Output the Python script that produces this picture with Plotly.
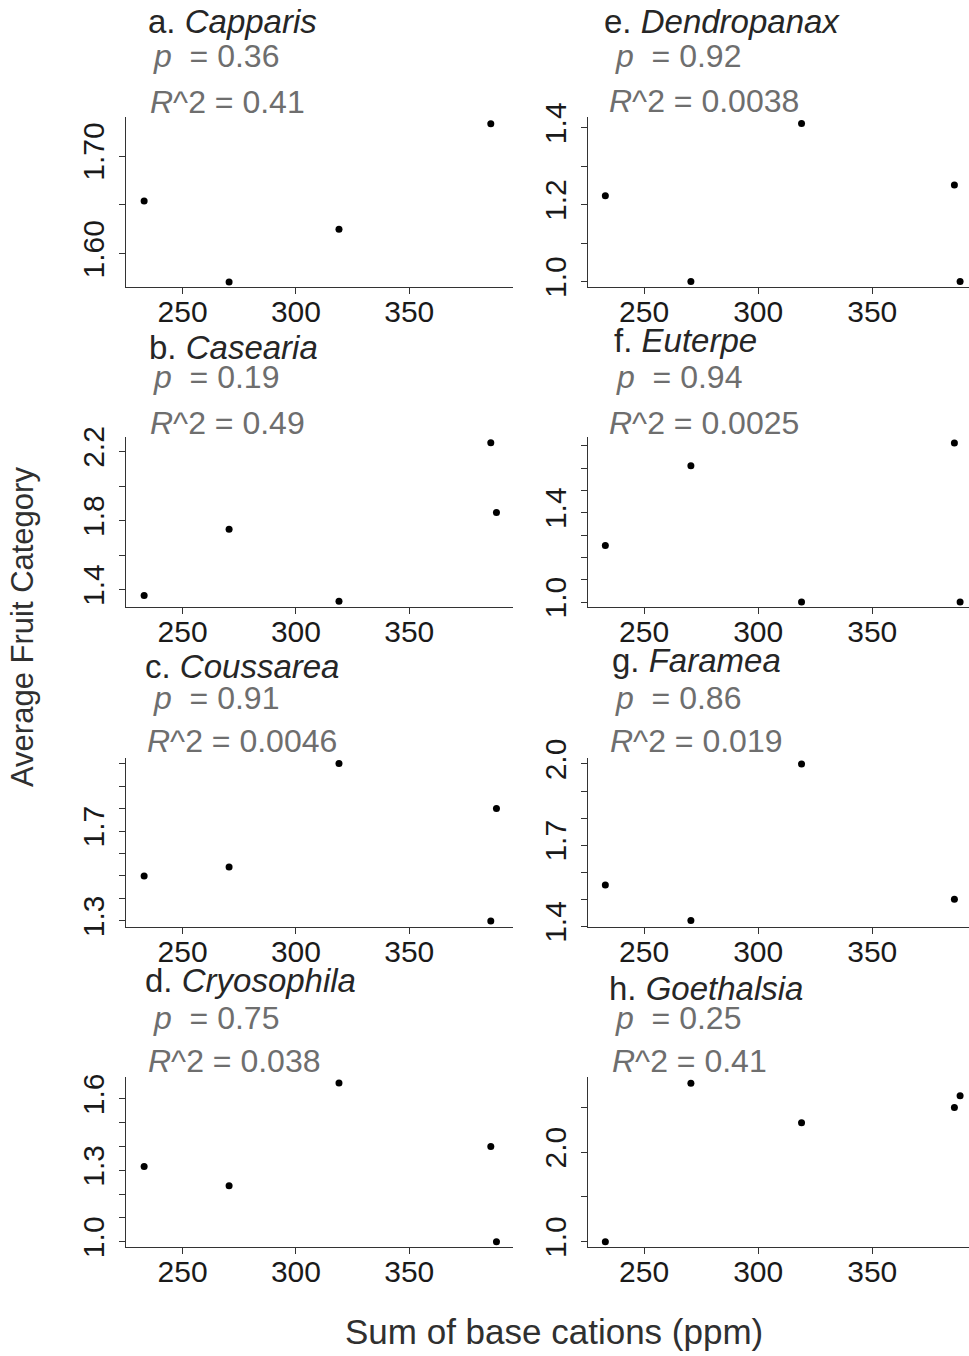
import plotly.graph_objects as go

W, H = 969, 1356

# Sum of base cations (ppm) at the five sites
cations = [233, 270.5, 319, 386, 388.5]

# Average fruit category per genus (None where the genus was absent)
genera = ["Capparis", "Casearia", "Coussarea", "Cryosophila",
          "Dendropanax", "Euterpe", "Faramea", "Goethalsia"]
letters = ["a", "b", "c", "d", "e", "f", "g", "h"]

capparis = [1.654, 1.571, 1.625, 1.733, None]
casearia = [1.365, 1.75, 1.333, 2.25, 1.846]
coussarea = [1.5, 1.54, 2.0, 1.3, 1.8]
cryosophila = [1.316, 1.235, 1.667, 1.4, 1.0]
dendropanax = [1.223, 1.0, 1.411, 1.251, 1.0]
euterpe = [1.253, 1.61, 1.0, 1.712, 1.0]
faramea = [1.553, 1.422, 2.0, 1.5, None]
goethalsia = [1.0, 2.77, 2.33, 2.5, 2.63]

p_values = ["0.36", "0.19", "0.91", "0.75", "0.92", "0.94", "0.86", "0.25"]
r2_values = ["0.41", "0.49", "0.0046", "0.038", "0.0038", "0.0025", "0.019", "0.41"]

# y-axis ticks and their labels (blank = unlabeled tick)
y_tickvals = [
    [1.60, 1.65, 1.70],
    [1.4, 1.6, 1.8, 2.0, 2.2],
    [1.3, 1.4, 1.5, 1.6, 1.7, 1.8, 1.9, 2.0],
    [1.0, 1.1, 1.2, 1.3, 1.4, 1.5, 1.6],
    [1.0, 1.1, 1.2, 1.3, 1.4],
    [1.0, 1.1, 1.2, 1.3, 1.4, 1.5, 1.6, 1.7],
    [1.4, 1.5, 1.6, 1.7, 1.8, 1.9, 2.0],
    [1.0, 1.5, 2.0, 2.5],
]
y_ticktext = [
    ["1.60", "", "1.70"],
    ["1.4", "", "1.8", "", "2.2"],
    ["1.3", "", "", "", "1.7", "", "", ""],
    ["1.0", "", "", "1.3", "", "", "1.6"],
    ["1.0", "", "1.2", "", "1.4"],
    ["1.0", "", "", "", "1.4", "", "", ""],
    ["1.4", "", "", "1.7", "", "", "2.0"],
    ["1.0", "", "2.0", ""],
]
x_tickvals = [250, 300, 350]

series = [capparis, casearia, coussarea, cryosophila,
          dendropanax, euterpe, faramea, goethalsia]

y_ranges = [
    [1.566, 1.740], [1.299, 2.284], [1.273, 2.025], [0.978, 1.692],
    [0.986, 1.428], [0.978, 1.739], [1.398, 2.022], [0.94, 2.84],
]

# panel geometry in pixels
col_x = [(126, 513), (588, 969)]
col_xrange = [[225.0, 395.8], [225.4, 392.4]]
row_y = [(117, 287), (437, 607), (758, 927), (1077, 1247)]

title_base = [33, 359, 678, 992, 33, 352, 672, 1000]
title_x = [146, 147, 143, 143, 602, 612, 610, 607]
p_base = [68, 389, 710, 1030, 68, 389, 710, 1030]
p_x = [151, 151, 151, 151, 613, 614, 613, 613]
r_base = [114, 435, 753, 1073, 113, 435, 753, 1073]
r_x = [148, 148, 145, 146, 607, 607, 608, 610]

FONT = "Liberation Sans, Arial, sans-serif"
TITLE_SIZE = 33
STAT_SIZE = 32
TICK_SIZE = 30


def px(x):
    return x / W


def py(y):
    return 1 - y / H


fig = go.Figure()
annotations = []


def add_text(txt, x, base, size, color):
    annotations.append(dict(
        text=txt, x=px(x), y=py(base - 0.36 * size),
        xref="paper", yref="paper", xanchor="left", yanchor="middle",
        showarrow=False,
        font=dict(family=FONT, size=size, color=color),
    ))


for i in range(8):
    col = i // 4
    row = i % 4
    n = i + 1
    sfx = "" if n == 1 else str(n)
    xs = [c for c, v in zip(cations, series[i]) if v is not None]
    ys = [v for v in series[i] if v is not None]
    fig.add_trace(go.Scatter(
        x=xs, y=ys, mode="markers",
        marker=dict(color="black", size=7),
        xaxis=f"x{sfx}", yaxis=f"y{sfx}",
        showlegend=False,
    ))
    x0, x1 = col_x[col]
    y0, y1 = row_y[row]
    axis_common = dict(
        showline=True, linecolor="#333333", linewidth=1.3,
        ticks="outside", ticklen=6, tickcolor="#333333", tickwidth=1.3,
        showgrid=False, zeroline=False, automargin=False,
        tickfont=dict(family=FONT, size=TICK_SIZE, color="#1a1a1a"),
    )
    fig.update_layout({
        f"xaxis{sfx}": dict(domain=[px(x0), px(x1)], range=col_xrange[col],
                            anchor=f"y{sfx}",
                            tickvals=x_tickvals,
                            ticktext=[str(v) for v in x_tickvals],
                            ticklabelstandoff=-8,
                            **axis_common),
        f"yaxis{sfx}": dict(domain=[py(y1), py(y0)], range=y_ranges[i],
                            anchor=f"x{sfx}",
                            tickvals=y_tickvals[i], ticktext=y_ticktext[i],
                            tickangle=-90, ticklabelstandoff=3,
                            **axis_common),
    })

    add_text(f"{letters[i]}. <i>{genera[i]}</i>", title_x[i], title_base[i],
             TITLE_SIZE, "#262626")
    add_text(f"<i>p</i>\u00a0 = {p_values[i]}", p_x[i], p_base[i],
             STAT_SIZE, "#6e6e6e")
    add_text(f"<i>R</i>^2 = {r2_values[i]}", r_x[i], r_base[i],
             STAT_SIZE, "#6e6e6e")

# shared axis titles
annotations.append(dict(
    text="Sum of base cations (ppm)", x=px(554), y=py(1331),
    xref="paper", yref="paper", xanchor="center", yanchor="middle",
    showarrow=False,
    font=dict(family=FONT, size=35, color="#303030"),
))
annotations.append(dict(
    text="Average Fruit Category", x=px(22), y=py(627),
    xref="paper", yref="paper", xanchor="center", yanchor="middle",
    textangle=-90, showarrow=False,
    font=dict(family=FONT, size=31, color="#303030"),
))

fig.update_layout(
    width=W, height=H,
    margin=dict(l=0, r=0, t=0, b=0, pad=0, autoexpand=False),
    paper_bgcolor="white", plot_bgcolor="white",
    annotations=annotations,
)

fig.write_html("out.html")
